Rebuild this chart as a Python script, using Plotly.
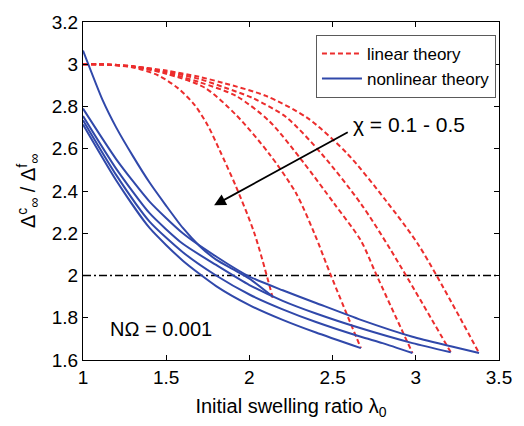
import plotly.graph_objects as go

# ---------------- data ----------------
# linear theory (red dashed), 5 curves for chi = 0.5 ... 0.1
lin_x1 = [1.0, 1.15, 1.3, 1.45, 1.57, 1.67, 1.75, 1.82, 1.92, 2.03, 2.14]
lin_y1 = [3.0, 2.998, 2.985, 2.948, 2.887, 2.808, 2.71, 2.595, 2.42, 2.20, 1.895]

lin_x2 = [1.0, 1.15, 1.3, 1.5, 1.73, 1.92, 2.12, 2.28, 2.39, 2.49, 2.67]
lin_y2 = [3.0, 2.998, 2.988, 2.955, 2.89, 2.76, 2.575, 2.39, 2.20, 2.0, 1.656]

lin_x3 = [1.0, 1.15, 1.3, 1.5, 1.7, 1.92, 2.12, 2.32, 2.51, 2.67, 2.765, 2.98]
lin_y3 = [3.0, 2.998, 2.99, 2.96, 2.915, 2.85, 2.73, 2.54, 2.34, 2.165, 2.0, 1.633]

lin_x4 = [1.0, 1.15, 1.3, 1.5, 1.7, 1.85, 2.02, 2.22, 2.435, 2.67, 2.85, 3.21]
lin_y4 = [3.0, 2.999, 2.99, 2.965, 2.93, 2.89, 2.84, 2.75, 2.575, 2.34, 2.12, 1.637]

lin_x5 = [1.0, 1.15, 1.3, 1.5, 1.7, 1.85, 2.1, 2.35, 2.59, 2.82, 3.02, 3.38]
lin_y5 = [3.0, 2.999, 2.99, 2.97, 2.94, 2.91, 2.85, 2.745, 2.575, 2.355, 2.14, 1.633]

# nonlinear theory (blue solid), 5 curves
non_x1 = [1.0, 1.118, 1.2, 1.3, 1.4, 1.5, 1.6, 1.7, 1.8, 1.9, 2.0, 2.14]
non_y1 = [3.065, 2.83, 2.70, 2.565, 2.44, 2.33, 2.225, 2.14, 2.075, 2.03, 1.985, 1.90]

non_x2 = [1.0, 1.2, 1.4, 1.6, 1.8, 2.0, 2.2, 2.4, 2.67]
non_y2 = [2.715, 2.45, 2.225, 2.07, 1.95, 1.86, 1.79, 1.73, 1.656]

non_x3 = [1.0, 1.2, 1.4, 1.6, 1.8, 2.0, 2.2, 2.4, 2.67, 2.8, 2.98]
non_y3 = [2.735, 2.475, 2.255, 2.11, 2.0, 1.91, 1.84, 1.78, 1.71, 1.68, 1.633]

non_x4 = [1.0, 1.2, 1.4, 1.6, 1.8, 2.0, 2.2, 2.4, 2.67, 2.98, 3.21]
non_y4 = [2.755, 2.505, 2.295, 2.15, 2.05, 1.955, 1.88, 1.82, 1.75, 1.68, 1.637]

non_x5 = [1.0, 1.2, 1.4, 1.6, 1.8, 2.0, 2.2, 2.4, 2.67, 2.98, 3.21, 3.38]
non_y5 = [2.79, 2.55, 2.35, 2.20, 2.09, 1.995, 1.93, 1.87, 1.79, 1.71, 1.665, 1.633]

ref_x = [1.0, 3.5]
ref_y = [2.0, 2.0]

x_ticks = [1, 1.5, 2, 2.5, 3, 3.5]
x_tick_text = ["1", "1.5", "2", "2.5", "3", "3.5"]
y_ticks = [1.6, 1.8, 2.0, 2.2, 2.4, 2.6, 2.8, 3.0, 3.2]
y_tick_text = ["1.6", "1.8", "2", "2.2", "2.4", "2.6", "2.8", "3", "3.2"]

# ---------------- figure ----------------
RED = "rgb(236,45,45)"
BLUE = "rgb(48,72,170)"
FONT = "Liberation Sans, Arial, sans-serif"

fig = go.Figure()

lin_sets = [(lin_x1, lin_y1), (lin_x2, lin_y2), (lin_x3, lin_y3), (lin_x4, lin_y4), (lin_x5, lin_y5)]
non_sets = [(non_x1, non_y1), (non_x2, non_y2), (non_x3, non_y3), (non_x4, non_y4), (non_x5, non_y5)]

fig.add_trace(go.Scatter(x=ref_x, y=ref_y, mode="lines", showlegend=False,
                         line=dict(color="black", width=1.5, dash="8px,3px,2px,3px")))

for i, (xs, ys) in enumerate(lin_sets):
    fig.add_trace(go.Scatter(x=xs, y=ys, mode="lines", name="linear theory",
                             legendgroup="lin", showlegend=(i == 0),
                             line=dict(color=RED, width=2, dash="5px,3px",
                                       shape="spline", smoothing=0.8)))

for i, (xs, ys) in enumerate(non_sets):
    fig.add_trace(go.Scatter(x=xs, y=ys, mode="lines", name="nonlinear theory",
                             legendgroup="non", showlegend=(i == 0),
                             line=dict(color=BLUE, width=2,
                                       shape="spline", smoothing=0.6)))

axis_common = dict(showline=True, linecolor="black", linewidth=1, mirror="ticks",
                   ticks="inside", ticklen=5, tickcolor="black", showgrid=False,
                   zeroline=False, tickfont=dict(family=FONT, size=19, color="black"))

fig.update_xaxes(range=[1, 3.5], tickvals=x_ticks, ticktext=x_tick_text,
                 title=dict(text="Initial swelling ratio λ<sub>0</sub>",
                            font=dict(family=FONT, size=20, color="black"), standoff=12),
                 **axis_common)
fig.update_yaxes(range=[1.6, 3.2], tickvals=y_ticks, ticktext=y_tick_text,
                 title=dict(text="Δ<sup>c</sup><sub>∞</sub> / Δ<sup>f</sup><sub>∞</sub>",
                            font=dict(family=FONT, size=20, color="black"), standoff=10),
                 **axis_common)

fig.add_annotation(x=1.788, y=2.332, ax=2.6, ay=2.682, xref="x", yref="y", axref="x", ayref="y",
                   showarrow=True, arrowhead=2, arrowsize=1.3, arrowwidth=1.8, arrowcolor="black",
                   text="")
fig.add_annotation(x=2.61, y=2.715, xref="x", yref="y", xanchor="left", yanchor="middle",
                   showarrow=False, text="χ = 0.1 - 0.5",
                   font=dict(family=FONT, size=21, color="black"))
fig.add_annotation(x=1.15, y=1.745, xref="x", yref="y", xanchor="left", yanchor="middle",
                   showarrow=False, text="NΩ = 0.001",
                   font=dict(family=FONT, size=20, color="black"))

fig.update_layout(
    width=524, height=426,
    margin=dict(l=83, r=16, t=21, b=62),
    paper_bgcolor="white", plot_bgcolor="white",
    font=dict(family=FONT, size=18, color="black"),
    legend=dict(x=0.56, y=0.962, xanchor="left", yanchor="top",
                bgcolor="white", bordercolor="rgb(90,90,90)", borderwidth=1,
                font=dict(family=FONT, size=17, color="black"),
                itemwidth=40, tracegroupgap=0),
)

fig.write_html("out.html")
